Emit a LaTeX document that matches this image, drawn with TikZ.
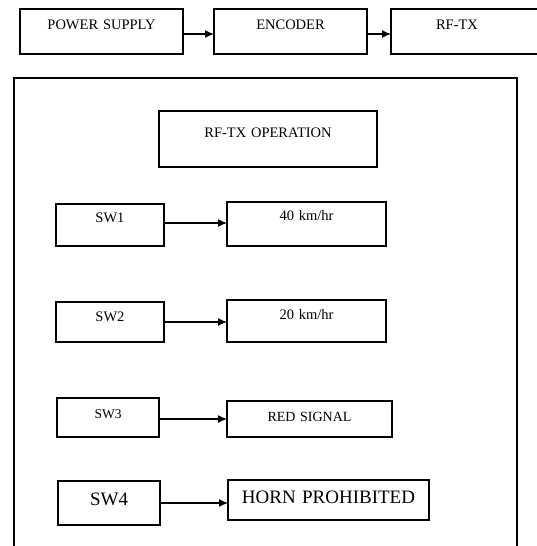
\documentclass[tikz,border=0pt]{standalone}
\usepackage{fontspec}
\setmainfont{Liberation Serif}
\usetikzlibrary{arrows.meta}
\begin{document}
\begin{tikzpicture}[x=1pt,y=-1pt,
  box/.style={draw, line width=1.8pt, inner sep=0pt, outer sep=0pt, align=center, anchor=north west,
    font=\fontsize{14.5}{16}\selectfont},
  bigfont/.style={font=\fontsize{19}{21}\selectfont},
  conn/.style={line width=1.2pt, -{Latex[length=9pt,width=8pt]}}]
\useasboundingbox (0,0) rectangle (536,546);
% top row
\node[box, text width=163pt, text height=20pt, text depth=25pt] (ps) at (20,9) {POWER SUPPLY};
\node[box, text width=153pt, text height=20pt, text depth=25pt] (enc) at (214,9) {ENCODER};
\node[box, text width=170pt, text height=20pt, text depth=25pt] (rf) at (391,9) {\hspace*{-38pt}RF-TX};
\draw[conn] ([yshift=-2.5pt]ps.east) -- ([yshift=-2.5pt]enc.west);
\draw[conn] ([yshift=-2.5pt]enc.east) -- ([yshift=-2.5pt]rf.west);
% frame
\node[draw, line width=1.6pt, inner sep=0pt, anchor=north west, minimum width=503pt, minimum height=490pt] (frame) at (13,77) {};
\node[box, text width=218pt, text height=26pt, text depth=30pt] (op) at (159,111) {RF-TX OPERATION};
% SW1
\node[box, text width=108pt, text height=18pt, text depth=24pt] (sw1) at (56,204) {SW1};
\node[box, text width=159pt, text height=18pt, text depth=26pt] (k40) at (227,202) {40 km/hr};
\draw[conn] ([yshift=2pt]sw1.east) -- ([yshift=1pt]k40.west);
% SW2
\node[box, text width=108pt, text height=19pt, text depth=21pt] (sw2) at (56,302) {SW2};
\node[box, text width=159pt, text height=19pt, text depth=23pt] (k20) at (227,300) {20 km/hr};
\draw[conn] (sw2.east) -- (sw2.east -| k20.west);
% SW3
\node[box, text width=102pt, text height=20pt, text depth=19pt, font=\fontsize{13.5}{15}\selectfont] (sw3) at (57,398) {SW3};
\node[box, text width=165pt, text height=20pt, text depth=16pt, font=\fontsize{14}{15}\selectfont] (red) at (227,401) {RED SIGNAL};
\draw[conn] ([yshift=-1.5pt]sw3.east) -- (red.west);
% SW4
\node[box, bigfont, text width=102pt, text height=24pt, text depth=20pt] (sw4) at (58,481) {SW4};
\node[box, bigfont, text width=201pt, text height=23pt, text depth=17pt] (horn) at (228,480) {HORN PROHIBITED};
\draw[conn] (sw4.east) -- (sw4.east -| horn.west);
\end{tikzpicture}
\end{document}
